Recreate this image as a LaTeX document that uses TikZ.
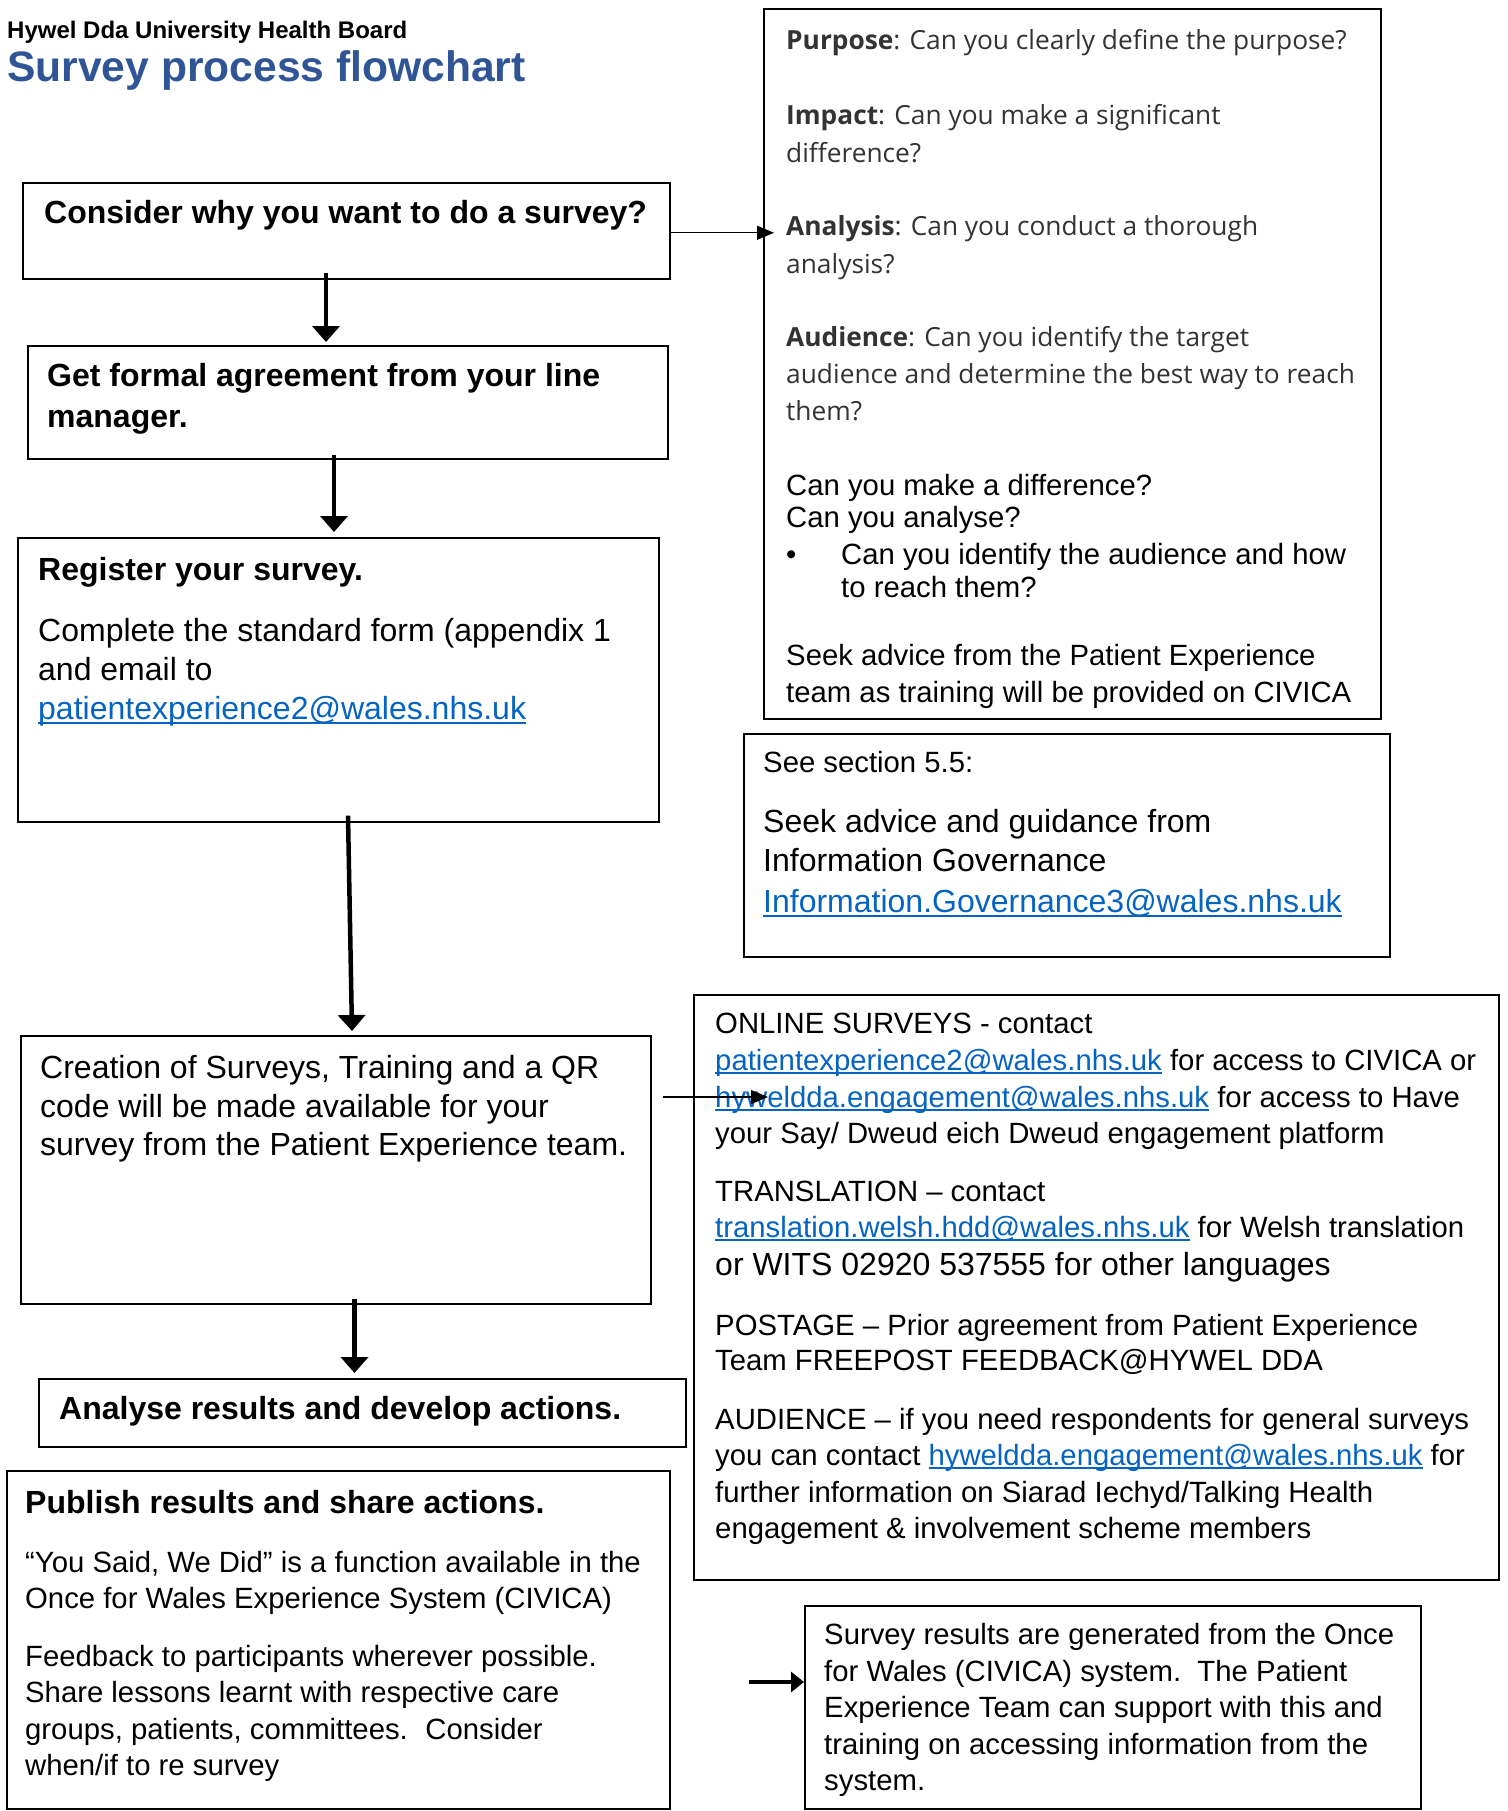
\documentclass[tikz,border=0pt]{standalone}
\usepackage{fontspec}
\setmainfont{Liberation Sans}
\newfontfamily\segoe{Open Sans}
\usetikzlibrary{arrows.meta,calc}
\definecolor{linkblue}{HTML}{0563C1}
\definecolor{titleblue}{HTML}{2F5597}
\definecolor{segoegray}{HTML}{333333}
\newcommand\lnk[1]{{\color{linkblue}\setbox0\hbox{#1}\rlap{\rule[-0.15em]{\wd0}{0.07em}}\box0}}
\newcommand\fsA{\fontsize{32}{38}\selectfont}
\newcommand\fsB{\fontsize{29.3}{35}\selectfont}
\newcommand\fsS{\segoe\color{segoegray}\fontsize{26.3}{34}\selectfont}
\begin{document}
\begin{tikzpicture}[x=1pt,y=-1pt,
  box/.style={draw=black, line width=1.6pt, inner sep=0pt, anchor=north west},
  txt/.style={anchor=base west, inner sep=0pt, font=\fsA},
  txtb/.style={anchor=base west, inner sep=0pt, font=\fsB},
  txts/.style={anchor=base west, inner sep=0pt, font=\fsS},
  bigarr/.style={line width=4.5pt, -{Triangle[width=27pt,length=16pt]}},
  midarr/.style={line width=3.5pt, -{Triangle[width=20pt,length=13pt]}},
  thinarr/.style={line width=1.2pt, -{Triangle[width=14pt,length=17pt]}}]
\fill[white] (0,0) rectangle (1507,1811);
\useasboundingbox (0,0) rectangle (1507,1811);

% title
\node[txt, font=\fontsize{24}{28}\selectfont\bfseries] (ttl1) at (7,39) {Hywel Dda University Health Board};
\node[txt, font=\fontsize{42.6}{48}\selectfont\bfseries, text=titleblue] (ttl2) at (7,82) {Survey process flowchart};

% boxes
\node[box, minimum width=647pt, minimum height=96pt] (A) at (22,182) {};
\node[box, minimum width=640pt, minimum height=113pt] (B) at (27,345) {};
\node[box, minimum width=641pt, minimum height=284pt] (C) at (17,537) {};
\node[box, minimum width=630pt, minimum height=268pt] (D) at (20,1035) {};
\node[box, minimum width=647pt, minimum height=68pt] (E) at (38,1378) {};
\node[box, minimum width=663pt, minimum height=338pt] (F) at (6,1470) {};
\node[box, minimum width=617pt, minimum height=710pt] (G) at (763,8) {};
\node[box, minimum width=646pt, minimum height=223pt] (H) at (743,733) {};
\node[box, minimum width=805pt, minimum height=585pt] (I) at (693,994) {};
\node[box, minimum width=616pt, minimum height=203pt] (J) at (804,1605) {};

% box A
\node[txt] (a1) at (44,224) {\bfseries Consider why you want to do a survey?};
% box B
\node[txt] (b1) at (47,386) {\bfseries Get formal agreement from your line};
\node[txt] (b2) at (47,427) {\bfseries manager.};
% box C
\node[txt] (c1) at (38,580) {\bfseries Register your survey.};
\node[txt] (c2) at (38,641) {Complete the standard form (appendix 1};
\node[txt] (c3) at (38,680) {and email to};
\node[txt] (c4) at (38,719) {\lnk{patientexperience2@wales.nhs.uk}};
% box D
\node[txt] (d1) at (40,1078) {Creation of Surveys, Training and a QR};
\node[txt] (d2) at (40,1117) {code will be made available for your};
\node[txt] (d3) at (40,1155) {survey from the Patient Experience team.};
% box E
\node[txt] (e1) at (59,1419) {\bfseries Analyse results and develop actions.};
% box F
\node[txt] (f1) at (25,1513) {\bfseries Publish results and share actions.};
\node[txtb] (f2) at (25,1572) {“You Said, We Did” is a function available in the};
\node[txtb] (f3) at (25,1608) {Once for Wales Experience System (CIVICA)};
\node[txtb] (f4) at (25,1666) {Feedback to participants wherever possible.};
\node[txtb] (f5) at (25,1702) {Share lessons learnt with respective care};
\node[txtb] (f6) at (25,1739) {groups, patients, committees.\hspace{0.6em}Consider};
\node[txtb] (f7) at (25,1775) {when/if to re survey};
% box G
\node[txts] (g1) at (786,50) {{\bfseries Purpose}: Can you clearly define the purpose?};
\node[txts] (g2) at (786,125) {{\bfseries Impact}: Can you make a significant};
\node[txts] (g3) at (786,163) {difference?};
\node[txts] (g4) at (786,236) {{\bfseries Analysis}: Can you conduct a thorough};
\node[txts] (g5) at (786,273) {analysis?};
\node[txts] (g6) at (786,346) {{\bfseries Audience}: Can you identify the target};
\node[txts] (g7) at (786,383) {audience and determine the best way to reach};
\node[txts] (g8) at (786,420) {them?};
\node[txtb] (g9) at (786,495) {Can you make a difference?};
\node[txtb] (g10) at (786,527) {Can you analyse?};
\node[txtb] (g11) at (786,564) {\textbullet};
\node[txtb] (g12) at (841,564) {Can you identify the audience and how};
\node[txtb] (g13) at (841,597) {to reach them?};
\node[txtb] (g14) at (786,665) {Seek advice from the Patient Experience};
\node[txtb] (g15) at (786,702) {team as training will be provided on CIVICA};
% box H
\node[txtb] (hh1) at (763,772) {See section 5.5:};
\node[txt] (hh2) at (763,832) {Seek advice and guidance from};
\node[txt] (hh3) at (763,871) {Information Governance};
\node[txt] (hh4) at (763,912) {\lnk{Information.Governance3@wales.nhs.uk}};
% box I
\node[txtb] (i1) at (715,1033) {ONLINE SURVEYS - contact};
\node[txtb] (i2) at (715,1070) {\lnk{patientexperience2@wales.nhs.uk} for access to CIVICA or};
\node[txtb] (i3) at (715,1107) {\lnk{hyweldda.engagement@wales.nhs.uk} for access to Have};
\node[txtb] (i4) at (715,1143) {your Say/ Dweud eich Dweud engagement platform};
\node[txtb] (i5) at (715,1201) {TRANSLATION – contact};
\node[txtb] (i6) at (715,1237) {\lnk{translation.welsh.hdd@wales.nhs.uk} for Welsh translation};
\node[txt] (i7) at (715,1275) {or WITS 02920 537555 for other languages};
\node[txtb] (i8) at (715,1335) {POSTAGE – Prior agreement from Patient Experience};
\node[txtb] (i9) at (715,1370) {Team FREEPOST FEEDBACK@HYWEL DDA};
\node[txtb] (i10) at (715,1429) {AUDIENCE – if you need respondents for general surveys};
\node[txtb] (i11) at (715,1465) {you can contact \lnk{hyweldda.engagement@wales.nhs.uk} for};
\node[txtb] (i12) at (715,1502) {further information on Siarad Iechyd/Talking Health};
\node[txtb] (i13) at (715,1538) {engagement \& involvement scheme members};
% box J
\node[txtb] (j1) at (824,1644) {Survey results are generated from the Once};
\node[txtb] (j2) at (824,1681) {for Wales (CIVICA) system.\hspace{0.55em}The Patient};
\node[txtb] (j3) at (824,1717) {Experience Team can support with this and};
\node[txtb] (j4) at (824,1754) {training on accessing information from the};
\node[txtb] (j5) at (824,1790) {system.};

% connector helpers
\coordinate (xab) at (326,0);
\coordinate (xbc) at (334,0);
\coordinate (xc) at (348,0);
\coordinate (xd) at (352,0);
\coordinate (xde) at (354.5,0);
\coordinate (di) at (663,1097);
\coordinate (js) at (749,1682);

% connectors
\draw[bigarr] ($(xab |- A.south)+(0,-7)$) -- ($(xab |- B.north)+(0,-3)$);
\draw[bigarr] ($(xbc |- B.south)+(0,-5)$) -- ($(xbc |- C.north)+(0,-5)$);
\draw[bigarr] ($(xc |- C.south)+(0,-7)$) -- ($(xd |- D.north)+(0,-4)$);
\draw[bigarr] ($(xde |- D.south)+(0,-6)$) -- ($(xde |- E.north)+(0,-5)$);
\draw[thinarr] ($(A.east)+(0,2)$) -- ($(A.east -| G.west)+(11,2)$);
\draw[thinarr] (di) -- ($(di -| I.west)+(75,0)$);
\draw[midarr] (js) -- (js -| J.west);
\end{tikzpicture}
\end{document}
